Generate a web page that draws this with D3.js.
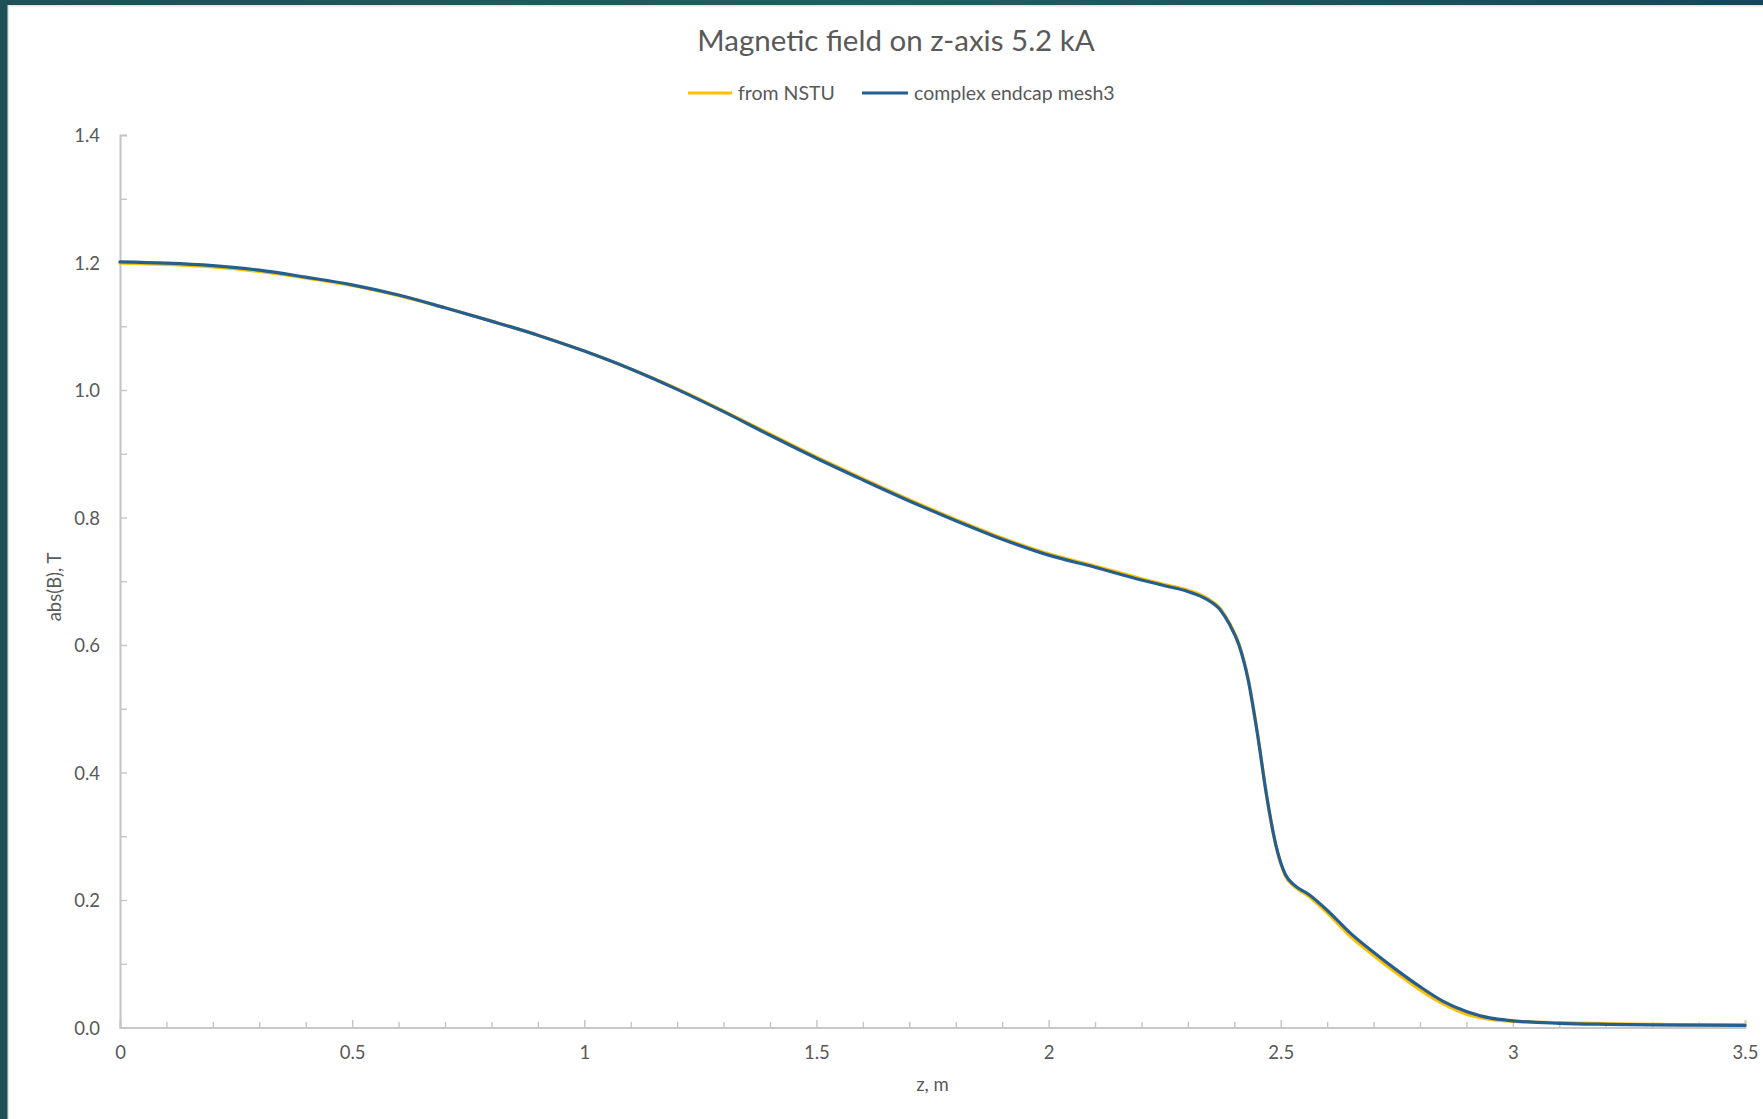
<!DOCTYPE html>
<html>
<head>
<meta charset="utf-8">
<script src="https://cdn.jsdelivr.net/npm/d3@7"></script>
<style>
  html, body { margin: 0; padding: 0; background: #ffffff; }
  svg { display: block; }
  text { font-family: Lato, "Open Sans", sans-serif; fill: #595959; }
</style>
</head>
<body>
<svg id="chart" width="1763" height="1119"></svg>
<script>
// ---- data ----
const zValues = [0.0, 0.1, 0.2, 0.3, 0.4, 0.5, 0.6, 0.7, 0.8, 0.9,
  1.0, 1.1, 1.2, 1.3, 1.4, 1.5, 1.6, 1.7, 1.8, 1.9,
  2.0, 2.1, 2.2, 2.25, 2.3, 2.34, 2.37, 2.39, 2.41, 2.43,
  2.45, 2.47, 2.49, 2.51, 2.53, 2.56, 2.6, 2.65, 2.7, 2.75,
  2.8, 2.85, 2.9, 2.95, 3.0, 3.1, 3.2, 3.3, 3.4, 3.5];

const nstuValues = [1.199, 1.197, 1.193, 1.186, 1.176, 1.164, 1.148, 1.129, 1.108, 1.086,
  1.061, 1.033, 1.002, 0.967, 0.931, 0.895, 0.861, 0.828, 0.797, 0.768,
  0.743, 0.724, 0.704, 0.695, 0.686, 0.674, 0.657, 0.634, 0.602, 0.547,
  0.461, 0.362, 0.284, 0.238, 0.221, 0.206, 0.180, 0.143, 0.113, 0.085,
  0.059, 0.037, 0.021, 0.013, 0.0095, 0.0075, 0.006, 0.005, 0.0045, 0.004];

const meshValues = [1.201, 1.199, 1.195, 1.188, 1.177, 1.165, 1.149, 1.129, 1.108, 1.086,
  1.061, 1.033, 1.001, 0.966, 0.929, 0.893, 0.859, 0.826, 0.795, 0.766,
  0.741, 0.722, 0.702, 0.693, 0.684, 0.672, 0.655, 0.632, 0.600, 0.545,
  0.460, 0.362, 0.285, 0.240, 0.223, 0.209, 0.184, 0.148, 0.118, 0.090,
  0.064, 0.041, 0.025, 0.015, 0.0105, 0.0066, 0.0050, 0.0042, 0.0037, 0.0034];

const seriesNames = ["from NSTU", "complex endcap mesh3"];
const seriesColors = ["#FFC000", "#255E91"];

const xMajorTicks = [0, 0.5, 1, 1.5, 2, 2.5, 3, 3.5];
const xMinorTicks = [0.1,0.2,0.3,0.4,0.6,0.7,0.8,0.9,1.1,1.2,1.3,1.4,1.6,1.7,1.8,1.9,
                     2.1,2.2,2.3,2.4,2.6,2.7,2.8,2.9,3.1,3.2,3.3,3.4];
const yMajorTicks = [0, 0.2, 0.4, 0.6, 0.8, 1.0, 1.2, 1.4];
const yMinorTicks = [0.1, 0.3, 0.5, 0.7, 0.9, 1.1, 1.3];

const titleText = "Magnetic field on z-axis 5.2 kA";
const xTitle = "z, m";
const yTitle = "abs(B), T";

// ---- layout ----
const W = 1763, H = 1119;
const plot = { left: 120, right: 1745, top: 135, bottom: 1027.5 };

const svg = d3.select("#chart");

// frame background (dark teal band on top/left)
const defs = svg.append("defs");
const grad = defs.append("linearGradient").attr("id", "bandGrad")
  .attr("x1", "0").attr("y1", "0").attr("x2", "1").attr("y2", "0");
grad.append("stop").attr("offset", "0").attr("stop-color", "#1f5057");
grad.append("stop").attr("offset", "0.5").attr("stop-color", "#245c5f");
grad.append("stop").attr("offset", "1").attr("stop-color", "#17465a");
svg.append("rect").attr("x", 0).attr("y", 0).attr("width", W).attr("height", H)
  .attr("fill", "url(#bandGrad)");
svg.append("rect").attr("x", 7.5).attr("y", 5).attr("width", W).attr("height", H)
  .attr("fill", "#e3e3e3");
svg.append("rect").attr("x", 9).attr("y", 6.5).attr("width", W).attr("height", H)
  .attr("fill", "#ffffff");

const x = d3.scaleLinear().domain([0, 3.5]).range([plot.left, plot.right]);
const y = d3.scaleLinear().domain([0, 1.4]).range([plot.bottom, plot.top]);

const axisColor = "#c4c4c4";

// y axis
const yAxisMinor = d3.axisLeft(y).tickValues(yMinorTicks).tickSize(-7).tickFormat("");
const yAxisMajor = d3.axisLeft(y).tickValues(yMajorTicks).tickSize(-7).tickPadding(20)
  .tickFormat(d3.format(".1f"));
const gyMin = svg.append("g").attr("transform", `translate(${plot.left},0)`).call(yAxisMinor);
const gy = svg.append("g").attr("transform", `translate(${plot.left},0)`).call(yAxisMajor);

// x axis
const xAxisMinor = d3.axisBottom(x).tickValues(xMinorTicks).tickSize(-5.5).tickFormat("");
const xAxisMajor = d3.axisBottom(x).tickValues(xMajorTicks).tickSize(-7.5).tickPadding(18)
  .tickFormat(d3.format(""));
const gxMin = svg.append("g").attr("transform", `translate(0,${plot.bottom})`).call(xAxisMinor);
const gx = svg.append("g").attr("transform", `translate(0,${plot.bottom})`).call(xAxisMajor);

[gy, gyMin, gx, gxMin].forEach(g => {
  g.select(".domain").attr("stroke", axisColor).attr("stroke-width", 1.6);
  g.selectAll(".tick line").attr("stroke", axisColor).attr("stroke-width", 1.4);
  g.selectAll(".tick text").style("font-family", "Lato, 'Open Sans', sans-serif")
    .style("font-size", "18.5px").attr("fill", "#595959");
});
gy.selectAll(".tick text").attr("dy", "0.36em");

// series lines
const lineGen = d3.line()
  .x(d => x(d[0]))
  .y(d => y(d[1]))
  .curve(d3.curveMonotoneX);

const seriesData = [
  zValues.map((z, i) => [z, nstuValues[i]]),
  zValues.map((z, i) => [z, meshValues[i]])
];

svg.append("g").selectAll("path").data(seriesData).join("path")
  .attr("d", lineGen)
  .attr("fill", "none")
  .attr("stroke", (d, i) => seriesColors[i])
  .attr("stroke-width", 3.2)
  .attr("stroke-linejoin", "round")
  .attr("stroke-linecap", "round");

// title
svg.append("text").attr("x", 896).attr("y", 51)
  .attr("text-anchor", "middle")
  .style("font-size", "29.5px")
  .text(titleText);

// legend
const legendItems = [
  { x1: 688, x2: 732, tx: 738 },
  { x1: 862, x2: 908, tx: 914 }
];
const lg = svg.append("g");
legendItems.forEach((it, i) => {
  lg.append("line").attr("x1", it.x1).attr("x2", it.x2).attr("y1", 93).attr("y2", 93)
    .attr("stroke", seriesColors[i]).attr("stroke-width", 3.2);
  lg.append("text").attr("x", it.tx).attr("y", 99.5)
    .style("font-size", "19.5px").text(seriesNames[i]);
});

// axis titles
svg.append("text").attr("x", (plot.left + plot.right) / 2).attr("y", 1091)
  .attr("text-anchor", "middle").style("font-size", "18.5px").text(xTitle);
svg.append("text")
  .attr("transform", `translate(61,587) rotate(-90)`)
  .attr("text-anchor", "middle").style("font-size", "18.5px").text(yTitle);
</script>
</body>
</html>
